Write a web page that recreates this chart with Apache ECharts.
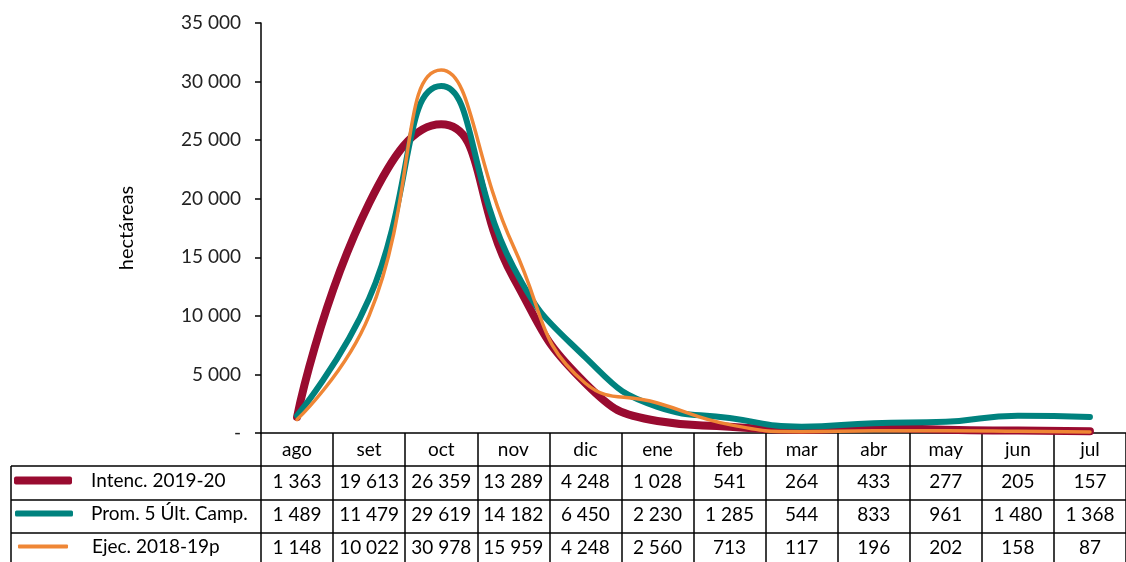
<!DOCTYPE html>
<html>
<head>
<meta charset="utf-8">
<script src="https://cdn.jsdelivr.net/npm/echarts@6/dist/echarts.min.js"></script>
<style>
  html, body { margin: 0; padding: 0; background: #fff; }
  #chart { width: 1126px; height: 562px; }
</style>
</head>
<body>
<div id="chart"></div>
<script>
// datos de la tabla
const categories = ['ago', 'set', 'oct', 'nov', 'dic', 'ene', 'feb', 'mar', 'abr', 'may', 'jun', 'jul'];
const intenc = [1363, 19613, 26359, 13289, 4248, 1028, 541, 264, 433, 277, 205, 157];
const prom = [1489, 11479, 29619, 14182, 6450, 2230, 1285, 544, 833, 961, 1480, 1368];
const ejec = [1148, 10022, 30978, 15959, 4248, 2560, 713, 117, 196, 202, 158, 87];
const names = ['Intenc. 2019-20', 'Prom. 5 Últ. Camp.', 'Ejec. 2018-19p'];
const colors = ['#990b30', '#00827e', '#ef8635'];

const FONT = 'Lato';
const fmt = v => String(v).replace(/\B(?=(\d{3})+(?!\d))/g, ' ');

// filas de la tabla como ejes x extra
const rowAxis = (values, margin) => ({
  type: 'category',
  gridIndex: 0,
  position: 'bottom',
  data: values.map(fmt),
  axisLine: {show: false},
  axisTick: {show: false},
  axisLabel: {interval: 0, margin: margin, verticalAlign: 'middle', fontSize: 19, fontFamily: FONT, color: '#000'}
});

const legendItem = (i, left, top, h, pad) => ({
  left: left,
  top: top,
  padding: 0,
  data: [names[i]],
  icon: 'roundRect',
  itemWidth: i === 2 ? 50 : 58,
  itemHeight: h,
  selectedMode: false,
  textStyle: {fontSize: 19, fontFamily: FONT, color: '#000', padding: [0, 0, 0, pad]}
});

const option = {
  animation: false,
  grid: {left: 261, right: 0, top: 23, bottom: 129, containLabel: false},
  legend: [
    legendItem(0, 14, 471, 8, 14),
    legendItem(1, 15, 504, 6, 13),
    legendItem(2, 18, 537, 4, 19)
  ],
  xAxis: [
    {
      type: 'category',
      data: categories,
      axisLine: {show: true, lineStyle: {color: '#000', width: 1.5}},
      axisTick: {show: true, inside: false, length: 129, interval: 0, alignWithLabel: false,
        lineStyle: {color: '#000', width: 1.5}},
      axisLabel: {interval: 0, margin: 17, verticalAlign: 'middle', fontSize: 19, fontFamily: FONT, color: '#000'}
    },
    rowAxis(intenc, 49),
    rowAxis(prom, 82),
    rowAxis(ejec, 115)
  ],
  yAxis: {
    type: 'value',
    min: 0,
    max: 35000,
    interval: 5000,
    name: 'hectáreas',
    nameLocation: 'middle',
    nameRotate: 90,
    nameGap: 124,
    nameTextStyle: {fontSize: 20, fontFamily: FONT, color: '#000'},
    splitLine: {show: false},
    axisLine: {show: true, lineStyle: {color: '#000', width: 1.5}},
    axisTick: {show: true, length: 6, lineStyle: {color: '#000', width: 1.5}},
    axisLabel: {
      margin: 20,
      fontSize: 19,
      fontFamily: FONT,
      color: '#222',
      formatter: v => v === 0 ? '-' : fmt(v)
    }
  },
  graphic: [
    {type: 'line', shape: {x1: 11, y1: 466, x2: 1126, y2: 466}, style: {stroke: '#000', lineWidth: 1.5}},
    {type: 'line', shape: {x1: 11, y1: 500, x2: 1126, y2: 500}, style: {stroke: '#000', lineWidth: 1.5}},
    {type: 'line', shape: {x1: 11, y1: 533, x2: 1126, y2: 533}, style: {stroke: '#000', lineWidth: 1.5}},
    {type: 'line', shape: {x1: 11, y1: 466, x2: 11, y2: 562}, style: {stroke: '#000', lineWidth: 1.5}}
  ],
  series: [
    {name: names[0], type: 'line', data: intenc, smooth: 0.5, symbol: 'none', color: colors[0],
      lineStyle: {width: 8, cap: 'round', join: 'round'}},
    {name: names[1], type: 'line', data: prom, smooth: 0.5, symbol: 'none', color: colors[1],
      lineStyle: {width: 6, cap: 'round', join: 'round'}},
    {name: names[2], type: 'line', data: ejec, smooth: 0.5, symbol: 'none', color: colors[2],
      lineStyle: {width: 3.5, cap: 'round', join: 'round'}}
  ]
};

const chart = echarts.init(document.getElementById('chart'));
chart.setOption(option);
</script>
</body>
</html>
